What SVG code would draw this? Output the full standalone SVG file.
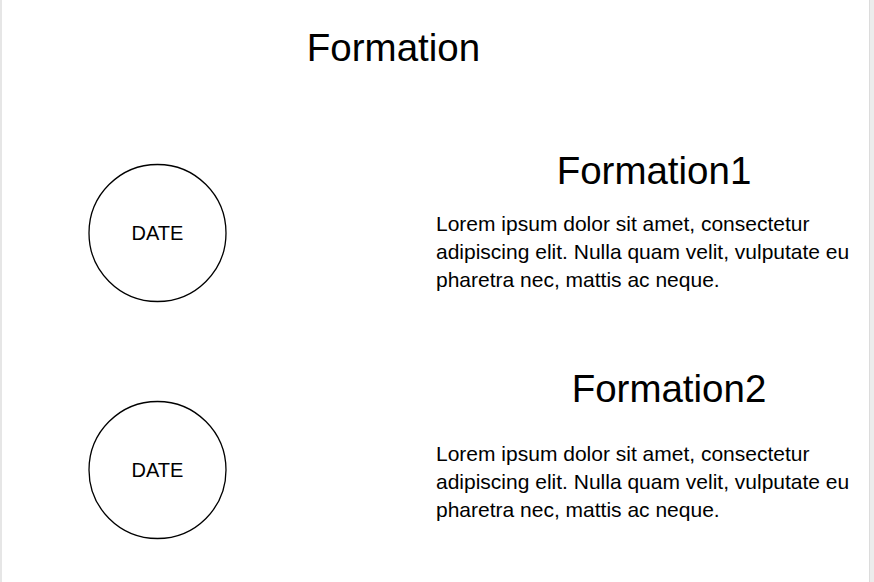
<svg xmlns="http://www.w3.org/2000/svg" width="874" height="582" viewBox="0 0 874 582">
<style>
text{font-family:"Liberation Sans",Arial,sans-serif;fill:#000}
.h{font-size:38.5px;text-anchor:middle}
.b{font-size:21px}
.d{font-size:20px;text-anchor:middle}
.c{fill:#fff;stroke:#000;stroke-width:1.3}
</style>
<rect x="0" y="0" width="874" height="582" fill="#fff"/>
<rect x="0" y="0" width="2" height="582" fill="#e6e6e6"/>
<rect x="869" y="0" width="5" height="582" fill="#ececec"/>
<line x1="869.5" y1="0" x2="869.5" y2="582" stroke="#dcdcdc"/>
<g id="title"><text class="h" x="393.5" y="61">Formation</text></g>
<g id="date1"><circle class="c" cx="157.5" cy="233" r="68.5"/><text class="d" x="157.5" y="240">DATE</text></g>
<g id="date2"><circle class="c" cx="157.5" cy="470" r="68.5"/><text class="d" x="157.5" y="477">DATE</text></g>
<g id="formation1">
<text class="h" x="654" y="184">Formation1</text>
<text class="b" x="436" y="231">Lorem ipsum dolor sit amet, consectetur</text>
<text class="b" x="436" y="259">adipiscing elit. Nulla quam velit, vulputate eu</text>
<text class="b" x="436" y="287">pharetra nec, mattis ac neque.</text>
</g>
<g id="formation2">
<text class="h" x="669" y="402">Formation2</text>
<text class="b" x="436" y="461">Lorem ipsum dolor sit amet, consectetur</text>
<text class="b" x="436" y="489">adipiscing elit. Nulla quam velit, vulputate eu</text>
<text class="b" x="436" y="517">pharetra nec, mattis ac neque.</text>
</g>
<g id="connectors"></g>
</svg>
